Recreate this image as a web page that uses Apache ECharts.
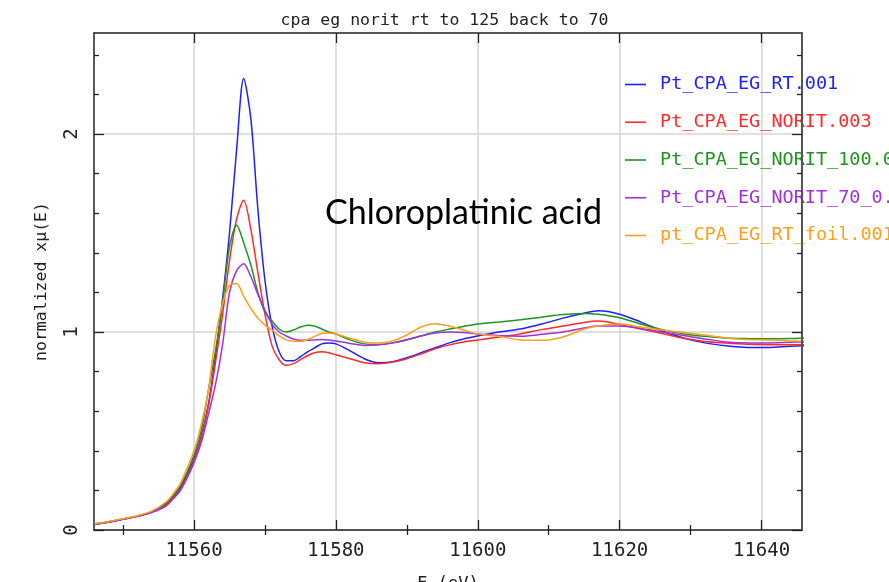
<!DOCTYPE html>
<html><head><meta charset="utf-8">
<script src="https://cdn.jsdelivr.net/npm/echarts@6/dist/echarts.min.js"></script>
<style>html,body{margin:0;padding:0;background:#fff}#c{width:889px;height:582px}</style>
</head><body><div id="c"></div>
<script>
// ---- data ----
const energy = [11546,11548,11550,11552,11554,11556,11557,11558,11559,11560,11561,11562,11563,11564,11565,11566,11567,11568,11569,11570,11571,11572,11573,11574,11575,11576,11577,11578,11579,11580,11582,11584,11586,11588,11590,11592,11594,11596,11598,11600,11603,11606,11609,11612,11615,11617,11620,11623,11626,11629,11632,11635,11638,11641,11644,11646];
const ptRT001 = [0.03,0.04,0.055,0.07,0.09,0.13,0.165,0.21,0.28,0.36,0.47,0.63,0.87,1.16,1.5,1.92,2.28,2.08,1.62,1.26,1.03,0.9,0.855,0.855,0.875,0.9,0.92,0.94,0.945,0.94,0.905,0.865,0.845,0.85,0.87,0.895,0.92,0.945,0.965,0.98,1.0,1.015,1.04,1.07,1.095,1.107,1.09,1.05,1.005,0.97,0.945,0.93,0.922,0.922,0.928,0.93];
const ptNorit003 = [0.03,0.042,0.056,0.07,0.09,0.125,0.16,0.2,0.27,0.35,0.46,0.62,0.84,1.08,1.36,1.57,1.665,1.52,1.3,1.09,0.93,0.86,0.832,0.84,0.86,0.88,0.895,0.9,0.895,0.885,0.865,0.845,0.84,0.848,0.865,0.89,0.915,0.935,0.95,0.96,0.975,0.99,1.012,1.03,1.048,1.055,1.038,1.015,0.992,0.968,0.952,0.944,0.938,0.936,0.936,0.936];
const ptNorit100 = [0.028,0.04,0.054,0.07,0.092,0.135,0.17,0.22,0.29,0.38,0.5,0.7,0.9,1.14,1.43,1.54,1.45,1.34,1.2,1.1,1.055,1.015,1.0,1.01,1.025,1.034,1.03,1.015,1.0,0.99,0.96,0.94,0.937,0.945,0.96,0.98,1.0,1.015,1.028,1.04,1.05,1.062,1.075,1.088,1.094,1.09,1.072,1.04,1.012,0.99,0.978,0.97,0.967,0.966,0.967,0.97];
const ptNorit70 = [0.03,0.04,0.054,0.068,0.088,0.12,0.155,0.195,0.26,0.34,0.44,0.58,0.73,0.93,1.2,1.31,1.345,1.28,1.19,1.11,1.04,1.0,0.98,0.965,0.958,0.958,0.96,0.962,0.96,0.955,0.942,0.932,0.935,0.945,0.962,0.98,0.995,1.0,0.998,0.99,0.982,0.979,0.988,1.0,1.02,1.03,1.03,1.018,1.0,0.982,0.965,0.95,0.945,0.945,0.948,0.95];
const ptFoil001 = [0.032,0.043,0.057,0.072,0.095,0.14,0.18,0.23,0.31,0.4,0.53,0.7,0.97,1.14,1.235,1.245,1.18,1.12,1.07,1.035,1.01,0.98,0.96,0.953,0.953,0.962,0.978,0.992,0.995,0.99,0.968,0.95,0.944,0.955,0.985,1.025,1.042,1.03,1.01,0.99,0.978,0.96,0.958,0.975,1.015,1.03,1.04,1.025,1.01,0.998,0.985,0.97,0.962,0.96,0.956,0.955];
const seriesNames = ['Pt_CPA_EG_RT.001','Pt_CPA_EG_NORIT.003','Pt_CPA_EG_NORIT_100.001','Pt_CPA_EG_NORIT_70_0.001','pt_CPA_EG_RT_foil.001'];
const seriesValues = [ptRT001, ptNorit003, ptNorit100, ptNorit70, ptFoil001];
const seriesColors = ['#1f1fff','#ff2a2a','#1e961e','#a030e0','#ff9f1a'];
const xMajorTicks = [11560,11580,11600,11620,11640];
const xMinorTicks = [11550,11570,11590,11610,11630];
const yMajorTicks = [0,1,2];
const yMinorTicks = [0.2,0.4,0.6,0.8,1.2,1.4,1.6,1.8,2.2,2.4];
const xMin = 11545.9, xMax = 11645.7, yMin = 0, yMax = 2.51;
const titleText = 'cpa eg norit rt to 125 back to 70';
const xName = 'E (eV)';
const yName = 'normalized x\u03bc(E)';
const noteText = 'Chloroplatinic acid';

// ---- chart ----
const FONT = 'DejaVu Sans Mono';
const AX = '#222';
function xAx(pos, ticks, len, opts) {
  return Object.assign({
    type:'value', position: pos, min:xMin, max:xMax, gridIndex:0,
    axisLine:{show:false}, axisTick:{show:true, inside:true, length:len, customValues:ticks, lineStyle:{color:AX,width:1.3}},
    axisLabel:{show:false}, splitLine:{show:false}
  }, opts||{});
}
function yAx(pos, ticks, len, opts) {
  return Object.assign({
    type:'value', position: pos, min:yMin, max:yMax, gridIndex:0,
    axisLine:{show:false}, axisTick:{show:true, inside:true, length:len, customValues:ticks, lineStyle:{color:AX,width:1.3}},
    axisLabel:{show:false}, splitLine:{show:false}
  }, opts||{});
}
const chart = echarts.init(document.getElementById('c'), null, {renderer:'canvas'});
chart.setOption({
  animation:false,
  backgroundColor:'#fff',
  title:{text:titleText, left:'center', top:7, textStyle:{fontFamily:FONT, fontSize:16.5, fontWeight:'normal', color:'#222'}},
  grid:{left:94, top:33, width:708, height:497, containLabel:false, outerBoundsMode:'none'},
  legend:{
    orient:'vertical', left:625, top:74, padding:0, z:1, icon:'rect', itemWidth:21, itemHeight:1.6, itemGap:16.75,
    data: seriesNames.map((n,i)=>({name:n, textStyle:{color:seriesColors[i]}})),
    textStyle:{fontFamily:FONT, fontSize:18.5, lineHeight:21, padding:[0,0,0,9]}
  },
  xAxis:[
    xAx('bottom', xMajorTicks, 10, {
      axisLine:{show:true, onZero:false, lineStyle:{color:AX, width:1.5}},
      axisLabel:{show:true, customValues:xMajorTicks, margin:12, fontFamily:FONT, fontSize:19, color:'#222', formatter:(v)=>String(v)},
      splitLine:{show:true, lineStyle:{color:'#d6d6d6', width:1.5}},
      name:xName, nameLocation:'middle', nameGap:46, nameTextStyle:{fontFamily:FONT, fontSize:17, color:'#222'}
    }),
    xAx('bottom', xMinorTicks, 5),
    xAx('top', xMajorTicks, 10, {axisLine:{show:true, onZero:false, lineStyle:{color:AX, width:1.5}}}),
    xAx('top', xMinorTicks, 5)
  ],
  yAxis:[
    yAx('left', yMajorTicks, 10, {
      axisLine:{show:true, onZero:false, lineStyle:{color:AX, width:1.5}},
      axisLabel:{show:true, customValues:yMajorTicks, rotate:90, margin:12, fontFamily:FONT, fontSize:19, color:'#222', formatter:(v)=>String(v)},
      splitLine:{show:true, lineStyle:{color:'#d6d6d6', width:1.5}},
      name:yName, nameLocation:'middle', nameGap:44, nameTextStyle:{fontFamily:FONT, fontSize:16.5, color:'#222'}
    }),
    yAx('left', yMinorTicks, 5),
    yAx('right', yMajorTicks, 10, {z:10, axisLine:{show:true, onZero:false, lineStyle:{color:'#555', width:2}}}),
    yAx('right', yMinorTicks, 5, {z:10})
  ],
  series: seriesNames.map((n,i)=>({
    name:n, type:'line', xAxisIndex:0, yAxisIndex:0, showSymbol:false, smooth:0.3,
    data: energy.map((e,j)=>[e, seriesValues[i][j]]),
    lineStyle:{color:seriesColors[i], width:1.5}, itemStyle:{color:seriesColors[i]}, z:2+i
  })),
  graphic:[{type:'text', left:325, top:196, z:100, style:{text:noteText, font:'34px Lato', fill:'#000'}}]
});
</script></body></html>
